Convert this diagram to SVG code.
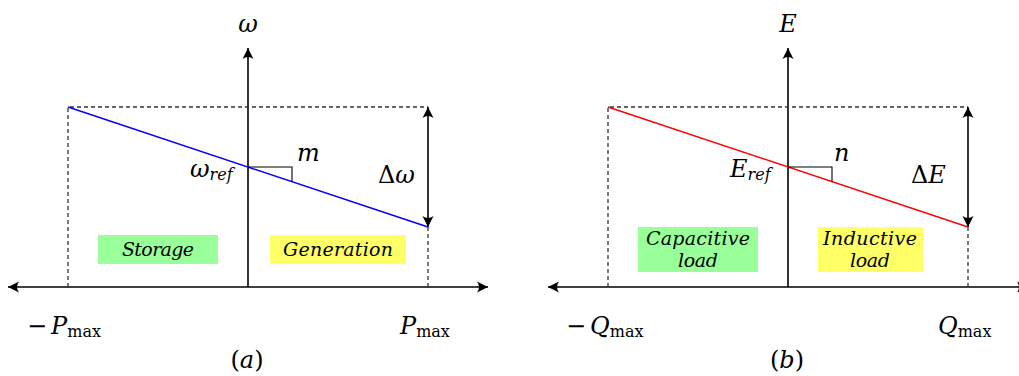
<svg xmlns="http://www.w3.org/2000/svg" width="1019" height="376" viewBox="0 0 1019 376">
<defs>
<marker id="ah" markerUnits="userSpaceOnUse" markerWidth="14" markerHeight="12" viewBox="-12 -6 14 12" refX="0" refY="0" orient="auto-start-reverse">
<path d="M0,0 L-11,-5.5 Q-7,0 -11,5.5 Z" fill="#000"/>
</marker>
<style>
.ax{stroke:#000;stroke-width:1.6;fill:none}
.dash{stroke:#333;stroke-width:1.3;stroke-dasharray:4 3;fill:none}
.thin{stroke:#000;stroke-width:1.1;fill:none}
.m{font-family:"DejaVu Serif",serif;font-style:italic;font-size:24px;fill:#000}
.up{font-family:"DejaVu Serif",serif;font-style:normal;fill:#000}
.sub{font-size:16px}
.lbl{font-family:"DejaVu Serif",serif;font-style:italic;font-size:19px;fill:#000;text-anchor:middle}
.green{fill:#99FF99}
.yellow{fill:#FFFF66}
</style>
</defs>

<g id="connectors">
<line class="ax" x1="248" y1="287" x2="248" y2="48" marker-end="url(#ah)"/>
<line class="ax" x1="8" y1="287" x2="488" y2="287" marker-start="url(#ah)" marker-end="url(#ah)"/>
<polyline class="dash" points="68,287 68,107 428,107"/>
<line class="dash" x1="428" y1="227" x2="428" y2="287"/>
<line class="ax" x1="428" y1="107" x2="428" y2="227" marker-start="url(#ah)" marker-end="url(#ah)"/>
<line x1="68" y1="107" x2="428" y2="227" stroke="#0000FF" stroke-width="1.5"/>
<polyline class="thin" points="248,167 292,167 292,181.7"/>
<line class="ax" x1="788" y1="287" x2="788" y2="48" marker-end="url(#ah)"/>
<line class="ax" x1="548" y1="287" x2="1028" y2="287" marker-start="url(#ah)" marker-end="url(#ah)"/>
<polyline class="dash" points="608,287 608,107 968,107"/>
<line class="dash" x1="968" y1="227" x2="968" y2="287"/>
<line class="ax" x1="968" y1="107" x2="968" y2="227" marker-start="url(#ah)" marker-end="url(#ah)"/>
<line x1="608" y1="107" x2="968" y2="227" stroke="#FF0000" stroke-width="1.5"/>
<polyline class="thin" points="788,167 832,167 832,181.7"/>
</g>

<g id="axis-labels-a">
<text class="m" x="248" y="32" text-anchor="middle">ω</text>
<text class="m" x="297" y="161">m</text>
<text class="m" x="190" y="177">ω<tspan class="sub" dy="3">ref</tspan></text>
<text class="m" x="378" y="183"><tspan class="up">Δ</tspan>ω</text>
<text class="m" x="27" y="334"><tspan class="up">−</tspan><tspan dx="4">P</tspan><tspan class="up sub" dy="3">max</tspan></text>
<text class="m" x="400" y="334">P<tspan class="up sub" dy="3">max</tspan></text>
<text class="m" x="247" y="368" text-anchor="middle"><tspan class="up">(</tspan>a<tspan class="up">)</tspan></text>
</g>

<g id="storage">
<rect class="green" x="98" y="235" width="120" height="29"/>
<text class="lbl" x="158" y="256" textLength="72">Storage</text>
</g>
<g id="generation">
<rect class="yellow" x="270" y="235" width="136" height="29"/>
<text class="lbl" x="338" y="256" textLength="110">Generation</text>
</g>

<g id="axis-labels-b">
<text class="m" x="788" y="32" text-anchor="middle">E</text>
<text class="m" x="834" y="161">n</text>
<text class="m" x="730" y="177">E<tspan class="sub" dy="3">ref</tspan></text>
<text class="m" x="911" y="183"><tspan class="up">Δ</tspan>E</text>
<text class="m" x="566" y="334"><tspan class="up">−</tspan><tspan dx="4">Q</tspan><tspan class="up sub" dy="3">max</tspan></text>
<text class="m" x="938" y="334">Q<tspan class="up sub" dy="3">max</tspan></text>
<text class="m" x="787" y="368" text-anchor="middle"><tspan class="up">(</tspan>b<tspan class="up">)</tspan></text>
</g>

<g id="capacitive">
<rect class="green" x="638" y="227" width="120" height="45"/>
<text class="lbl" x="698" y="245" textLength="104">Capacitive</text>
<text class="lbl" x="698" y="267" textLength="40">load</text>
</g>
<g id="inductive">
<rect class="yellow" x="818" y="227" width="105" height="45"/>
<text class="lbl" x="870" y="245" textLength="94">Inductive</text>
<text class="lbl" x="870" y="267" textLength="40">load</text>
</g>
</svg>
